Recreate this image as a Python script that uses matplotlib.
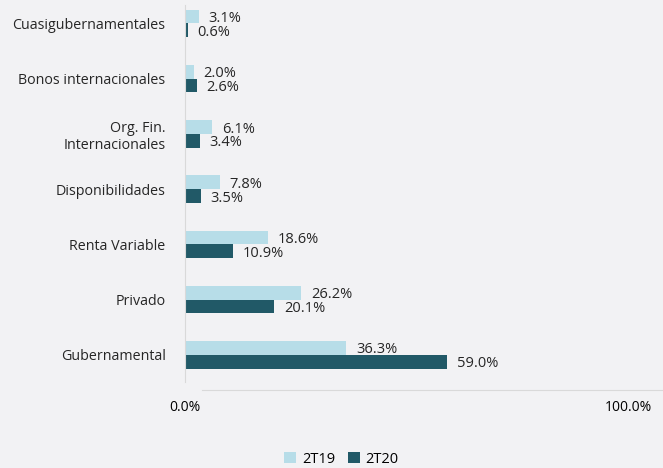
import matplotlib.pyplot as plt
import numpy as np

categories = ['Gubernamental', 'Privado', 'Renta Variable', 'Disponibilidades',
              'Org. Fin.\nInternacionales', 'Bonos internacionales', 'Cuasigubernamentales']
s2t19 = [36.3, 26.2, 18.6, 7.8, 6.1, 2.0, 3.1]
s2t20 = [59.0, 20.1, 10.9, 3.5, 3.4, 2.6, 0.6]
series_names = ['2T19', '2T20']

bg = '#f2f2f4'
c19 = '#b7dde8'
c20 = '#215967'
grid_c = '#d9d9d9'

plt.rcParams['font.family'] = ['Open Sans', 'DejaVu Sans']

fig = plt.figure(figsize=(6.63, 4.68), dpi=100, facecolor=bg)
ax = fig.add_axes([0.279, 0.184, 0.721, 0.805], facecolor=bg)

y = np.arange(len(categories))
h = 0.25
b1 = ax.barh(y + h / 2, s2t19, height=h, color=c19, label=series_names[0])
b2 = ax.barh(y - h / 2, s2t20, height=h, color=c20, label=series_names[1])

# Data labels
for bars, vals in [(b1, s2t19), (b2, s2t20)]:
    for bar, v in zip(bars, vals):
        ax.annotate(f'{v:.1f}%', (v, bar.get_y() + bar.get_height() / 2),
                    xytext=(7, -1.5), textcoords='offset points',
                    va='center', ha='left', fontsize=10.5, color='#262626')

ax.set_xlim(0, 107.7)
ax.set_ylim(-0.49, 6.33)
ax.set_yticks(y)
ax.set_yticklabels(categories, fontsize=10.3, color='#262626')
ax.set_xticks([0, 100])
ax.set_xticklabels(['0.0%', '100.0%'], fontsize=10.5, color='#262626')
ax.tick_params(length=0)
ax.tick_params(axis='x', pad=7)
ax.tick_params(axis='y', pad=14)

for s in ['top', 'right']:
    ax.spines[s].set_visible(False)
ax.spines['left'].set_color(grid_c)
ax.spines['bottom'].set_color(grid_c)
ax.spines['bottom'].set_position(('outward', 6))
ax.spines['bottom'].set_bounds(3.8, 107.7)

fig.legend(handles=[b1, b2], loc='lower center', bbox_to_anchor=(0.515, -0.025),
           ncol=2, frameon=False, fontsize=10.5, handlelength=0.8, handleheight=0.8,
           columnspacing=0.9, handletextpad=0.4)

fig.savefig('out.png', dpi=100, facecolor=bg)
